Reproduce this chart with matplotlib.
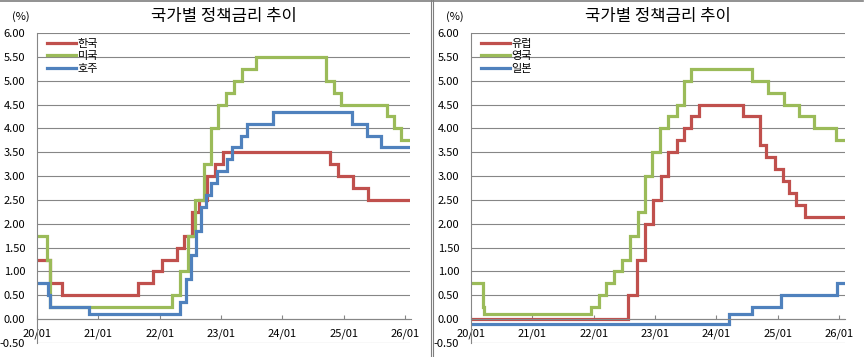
import numpy as np
import pandas as pd
import matplotlib.pyplot as plt
import matplotlib.dates as mdates
from matplotlib.lines import Line2D

plt.rcParams['font.family'] = ['Noto Sans CJK KR', 'DejaVu Sans']

# --- policy rates (change dates / new level) ---
end_date = '2026-02-04'

kr_dates = ['2020-01-01', '2020-03-16', '2020-05-28', '2021-08-26', '2021-11-25',
            '2022-01-14', '2022-04-14', '2022-05-26', '2022-07-13', '2022-08-25',
            '2022-10-12', '2022-11-24', '2023-01-13', '2024-10-11', '2024-11-28',
            '2025-02-25', '2025-05-29']
kr_rates = [1.25, 0.75, 0.50, 0.75, 1.00, 1.25, 1.50, 1.75, 2.25, 2.50,
            3.00, 3.25, 3.50, 3.25, 3.00, 2.75, 2.50]

us_dates = ['2020-01-01', '2020-03-03', '2020-03-16', '2022-03-17', '2022-05-05',
            '2022-06-16', '2022-07-28', '2022-09-22', '2022-11-03', '2022-12-15',
            '2023-02-02', '2023-03-23', '2023-05-04', '2023-07-27', '2024-09-19',
            '2024-11-08', '2024-12-19', '2025-09-18', '2025-10-30', '2025-12-11']
us_rates = [1.75, 1.25, 0.25, 0.50, 1.00, 1.75, 2.50, 3.25, 4.00, 4.50,
            4.75, 5.00, 5.25, 5.50, 5.00, 4.75, 4.50, 4.25, 4.00, 3.75]

au_dates = ['2020-01-01', '2020-03-04', '2020-03-20', '2020-11-04', '2022-05-04',
            '2022-06-08', '2022-07-06', '2022-08-03', '2022-09-07', '2022-10-05',
            '2022-11-02', '2022-12-07', '2023-02-08', '2023-03-08', '2023-05-03',
            '2023-06-07', '2023-11-08', '2025-02-19', '2025-05-21', '2025-08-13']
au_rates = [0.75, 0.50, 0.25, 0.10, 0.35, 0.85, 1.35, 1.85, 2.35, 2.60,
            2.85, 3.10, 3.35, 3.60, 3.85, 4.10, 4.35, 4.10, 3.85, 3.60]

eu_dates = ['2020-01-01', '2022-07-27', '2022-09-14', '2022-11-02', '2022-12-21',
            '2023-02-08', '2023-03-22', '2023-05-10', '2023-06-21', '2023-08-02',
            '2023-09-20', '2024-06-12', '2024-09-18', '2024-10-23', '2024-12-18',
            '2025-02-05', '2025-03-12', '2025-04-23', '2025-06-11']
eu_rates = [0.00, 0.50, 1.25, 2.00, 2.50, 3.00, 3.50, 3.75, 4.00, 4.25,
            4.50, 4.25, 3.65, 3.40, 3.15, 2.90, 2.65, 2.40, 2.15]

uk_dates = ['2020-01-01', '2020-03-11', '2020-03-19', '2021-12-16', '2022-02-03',
            '2022-03-17', '2022-05-05', '2022-06-16', '2022-08-04', '2022-09-22',
            '2022-11-03', '2022-12-15', '2023-02-02', '2023-03-23', '2023-05-11',
            '2023-06-22', '2023-08-03', '2024-08-01', '2024-11-07', '2025-02-06',
            '2025-05-08', '2025-08-07', '2025-12-18']
uk_rates = [0.75, 0.25, 0.10, 0.25, 0.50, 0.75, 1.00, 1.25, 1.75, 2.25,
            3.00, 3.50, 4.00, 4.25, 4.50, 5.00, 5.25, 5.00, 4.75, 4.50,
            4.25, 4.00, 3.75]

jp_dates = ['2020-01-01', '2024-03-19', '2024-07-31', '2025-01-24', '2025-12-19']
jp_rates = [-0.10, 0.10, 0.25, 0.50, 0.75]

left_series = [('한국', kr_dates, kr_rates), ('미국', us_dates, us_rates), ('호주', au_dates, au_rates)]
right_series = [('유럽', eu_dates, eu_rates), ('영국', uk_dates, uk_rates), ('일본', jp_dates, jp_rates)]

colors = ['#C0504D', '#9BBB59', '#4F81BD']
title = '국가별 정책금리 추이'
grid_c = '#868686'

fig = plt.figure(figsize=(8.65, 3.57), dpi=100)

panels = [(37, left_series), (471, right_series)]
for x0, series in panels:
    ax = fig.add_axes([x0 / 865, 1 - 343 / 357, 373.5 / 865, 310 / 357])
    for (name, d, v), c in zip(series, colors):
        xs = pd.to_datetime(d + [end_date])
        ys = v + [v[-1]]
        ax.step(xs, ys, where='post', color=c, lw=2.3, solid_joinstyle='miter')
        # legend proxy (plain line, no steps)
        ax.plot([], [], color=c, lw=2.3, label=name)

    ax.set_xlim(pd.Timestamp('2020-01-01'), pd.Timestamp(end_date))
    ax.set_ylim(-0.5, 6.0)
    ax.set_yticks(np.arange(-0.5, 6.01, 0.5))
    ax.yaxis.set_major_formatter(plt.FormatStrFormatter('%.2f'))
    ax.set_xticks(pd.to_datetime([f'{y}-01-01' for y in range(2020, 2027)]))
    ax.xaxis.set_major_formatter(mdates.DateFormatter('%y/%m'))

    ax.grid(axis='y', color=grid_c, lw=0.8)
    ax.set_axisbelow(True)
    for s in ['top', 'right']:
        ax.spines[s].set_visible(False)
    ax.spines['bottom'].set_position(('data', 0))
    ax.spines['bottom'].set_color(grid_c)
    ax.spines['left'].set_color(grid_c)
    ax.spines['bottom'].set_linewidth(0.8)
    ax.spines['left'].set_linewidth(0.8)
    ax.tick_params(axis='y', length=0, pad=8.5, labelsize=8)
    ax.tick_params(axis='x', direction='in', length=3, color=grid_c, pad=6.5, labelsize=8)

    leg = ax.legend(loc='upper left', bbox_to_anchor=(10 / 373.5, 1 - 6 / 310), frameon=False,
                    fontsize=8, handlelength=2.6, handletextpad=0.15, labelspacing=0.21,
                    borderpad=0, borderaxespad=0)

    cx = (x0 + 373.5 / 2) / 865
    fig.text(cx, 1 - 17 / 357, title, ha='center', va='center', fontsize=12)
    fig.text((x0 - 16) / 865, 1 - 17 / 357, '(%)', ha='center', va='center', fontsize=8)

# chart frames
fig.add_artist(Line2D([0, 863 / 865], [1 - 0.8 / 357] * 2, color='#7f7f7f', lw=1.2))
for xp in [431, 433]:
    fig.add_artist(Line2D([xp / 865] * 2, [0, 1], color='#7f7f7f', lw=0.8))

fig.savefig('out.png', dpi=100)
